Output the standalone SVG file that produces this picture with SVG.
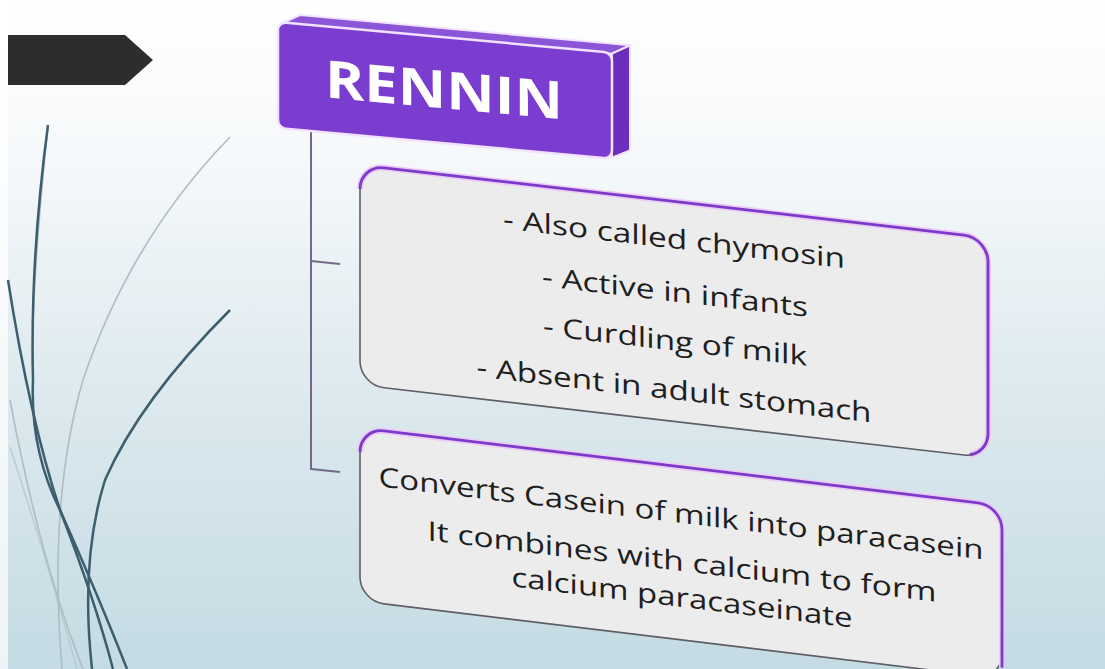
<svg xmlns="http://www.w3.org/2000/svg" width="1105" height="669" viewBox="0 0 1105 669">
<defs>
<linearGradient id="bg" x1="0" y1="0" x2="0" y2="1">
<stop offset="0" stop-color="#ffffff"/>
<stop offset="0.25" stop-color="#f5f8fa"/>
<stop offset="0.6" stop-color="#dce9ee"/>
<stop offset="1" stop-color="#c4dbe3"/>
</linearGradient>
<style>
.dark{fill:none;stroke:#3d5e6d;stroke-width:2.5}
.light{fill:none;stroke:#aebcc4;stroke-width:1.6}
.conn{fill:none;stroke:#75698a;stroke-width:2}
.card{fill:#ececec;stroke:#5e5e66;stroke-width:1.6}
.glow{fill:none;stroke:#ecc9f7;stroke-width:6}
.edge{fill:none;stroke:#7a3cc8;stroke-width:2.8}
.txt{font-family:"Open Sans","Liberation Sans",sans-serif;font-size:27px;fill:#1e1e1e;text-anchor:middle}
.title{font-family:"Open Sans","Liberation Sans",sans-serif;font-size:52px;font-weight:bold;fill:#ffffff;text-anchor:middle}
</style>
</defs>
<rect width="1105" height="669" fill="url(#bg)"/>
<rect x="0" y="0" width="8" height="669" fill="#ffffff" opacity="0.7"/>

<g id="decor">
<path class="light" d="M48 125 Q30 300 33 380"/>
<path class="light" d="M230 137 Q130 240 83 380 Q48 500 62 669"/>
<path class="light" d="M10 400 Q40 560 83 669"/>
<path class="light" d="M10 447 Q50 570 77 669" opacity="0.6"/>
<path class="dark" d="M33 380 Q30 450 60 510 Q100 600 127 669"/>
<path class="dark" d="M48 125 Q30 260 33 380" stroke-width="2" stroke="#6c8490"/>
<path class="dark" d="M8 280 Q30 420 60 510 Q95 600 113 669"/>
<path class="dark" d="M230 310 Q140 400 105 480 Q80 560 92 669"/>
</g>

<g id="arrow">
<polygon points="8,35 125,35 153,60 125,85 8,85" fill="#2d2d2d"/>
</g>

<g id="connectors">
<line class="conn" x1="311" y1="130" x2="311" y2="470"/>
<line class="conn" x1="311" y1="261" x2="340" y2="264"/>
<line class="conn" x1="311" y1="469" x2="340" y2="472"/>
</g>

<g id="rennin" transform="matrix(1,0.092,0,1,0,-25.6)">
<polygon points="282,23 300,13 630,13 612,23" fill="#8a55d6" stroke="#f2e2ff" stroke-width="2"/>
<polygon points="612,23 630,13 630,118 612,127" fill="#6a2fbd" stroke="#f2e2ff" stroke-width="2"/>
<rect x="278" y="22" width="334" height="106" rx="8" fill="#7a3dcf" stroke="#f2e2ff" stroke-width="2.5"/>
<text class="title" x="444" y="93" textLength="238" lengthAdjust="spacingAndGlyphs">RENNIN</text>
</g>

<g id="box1" transform="matrix(1,0.116,0,1,0,-41.76)">
<rect class="card" x="360" y="165" width="628" height="220" rx="24"/>
<path class="glow" d="M360 189 A24 24 0 0 1 384 165 L964 165 A24 24 0 0 1 988 189 L988 361 A24 24 0 0 1 970 384"/>
<path class="edge" d="M360 189 A24 24 0 0 1 384 165 L964 165 A24 24 0 0 1 988 189 L988 361 A24 24 0 0 1 970 384"/>
<text class="txt" x="674" y="212" textLength="342" lengthAdjust="spacingAndGlyphs">- Also called chymosin</text>
<text class="txt" x="675" y="265" textLength="266" lengthAdjust="spacingAndGlyphs">- Active in infants</text>
<text class="txt" x="675" y="314" textLength="264" lengthAdjust="spacingAndGlyphs">- Curdling of milk</text>
<text class="txt" x="674" y="363" textLength="395" lengthAdjust="spacingAndGlyphs">- Absent in adult stomach</text>
</g>

<g id="box2" transform="matrix(1,0.121,0,1,0,-43.56)">
<rect class="card" x="360" y="428" width="642" height="173" rx="24"/>
<path class="glow" d="M360 452 A24 24 0 0 1 384 428 L978 428 A24 24 0 0 1 1002 452 L1002 590"/>
<path class="edge" d="M360 452 A24 24 0 0 1 384 428 L978 428 A24 24 0 0 1 1002 452 L1002 590"/>
<text class="txt" x="681" y="484" textLength="605" lengthAdjust="spacingAndGlyphs">Converts Casein of milk into paracasein</text>
<text class="txt" x="682" y="532" textLength="509" lengthAdjust="spacingAndGlyphs">It combines with calcium to form</text>
<text class="txt" x="682" y="568" textLength="341" lengthAdjust="spacingAndGlyphs">calcium paracaseinate</text>
</g>
</svg>
